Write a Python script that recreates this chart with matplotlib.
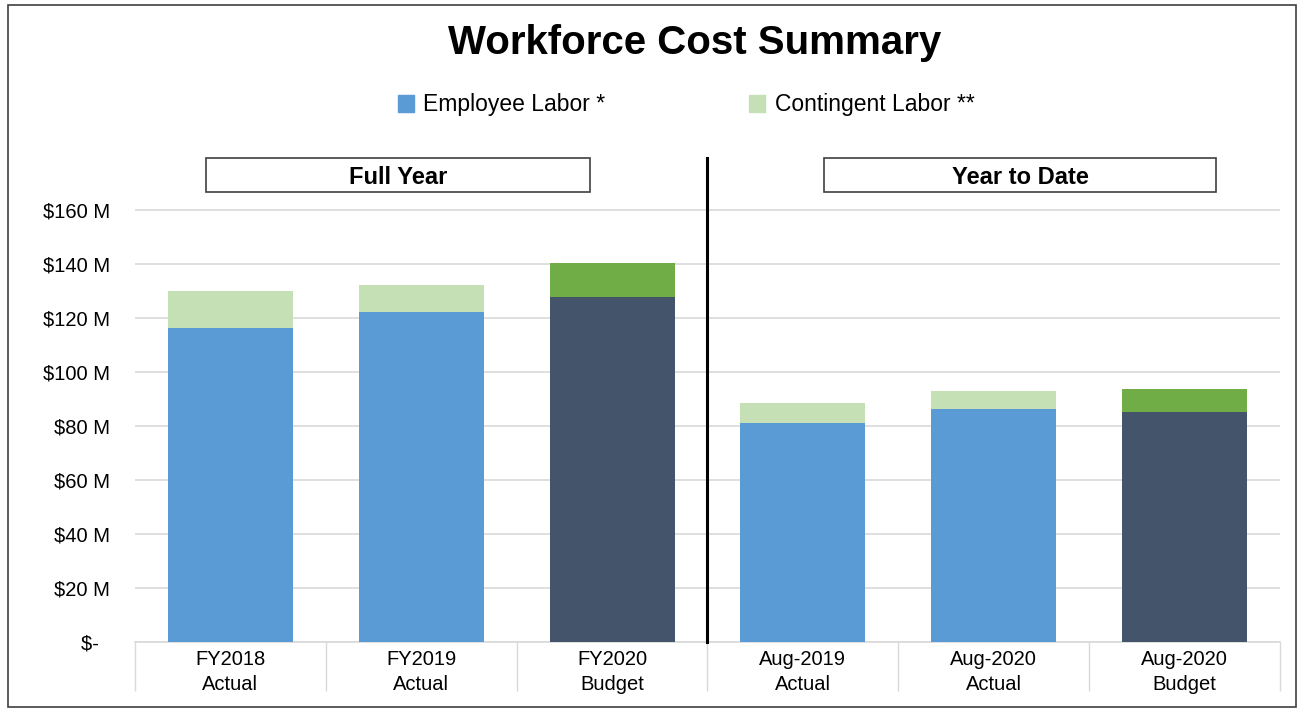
import matplotlib
matplotlib.use("Agg")
import matplotlib.pyplot as plt
from matplotlib.patches import Patch, Rectangle
import numpy as np

plt.rcParams['font.family'] = ['Liberation Sans', 'DejaVu Sans']

# Data ($M)
periods = ["FY2018", "FY2019", "FY2020", "Aug-2019", "Aug-2020", "Aug-2020"]
kinds = ["Actual", "Actual", "Budget", "Actual", "Actual", "Budget"]
employee = [116.3, 122.2, 127.8, 81.2, 86.3, 85.2]
contingent = [13.7, 10.0, 12.6, 7.3, 6.5, 8.5]
section_titles = ["Full Year", "Year to Date"]
y_ticks = [0, 20, 40, 60, 80, 100, 120, 140, 160]

blue, light_green = "#5B9BD5", "#C5E0B4"
navy, green = "#44546A", "#70AD47"

fig = plt.figure(figsize=(13.01, 7.09), dpi=100)
ax = fig.add_axes([135 / 1301, 1 - 642 / 709, 1145 / 1301, 484 / 709])

x = np.arange(len(periods))
emp_colors = [navy if k == "Budget" else blue for k in kinds]
con_colors = [green if k == "Budget" else light_green for k in kinds]
ax.bar(x, employee, width=0.655, color=emp_colors, zorder=3)
ax.bar(x, contingent, bottom=employee, width=0.655, color=con_colors, zorder=3)

ax.set_xlim(-0.5, len(periods) - 0.5)
ax.set_ylim(0, 179.3)
ax.set_yticks(y_ticks)
ax.set_yticklabels(["$-  " if v == 0 else f"${v} M" for v in y_ticks], fontsize=14.5)
ax.yaxis.grid(True, color="#D9D9D9", linewidth=1.2, zorder=0)
ax.tick_params(axis="y", length=0, pad=18)

ax.set_xticks(x)
ax.set_xticklabels([f"{p}\n{k}" for p, k in zip(periods, kinds)], fontsize=14.5,
                   linespacing=1.4)
ax.set_xticks(np.arange(-0.5, len(periods)), minor=True)
ax.tick_params(axis="x", which="major", length=0, pad=6)
ax.tick_params(axis="x", which="minor", length=35, color="#D9D9D9", width=1)

for s in ["top", "right", "left"]:
    ax.spines[s].set_visible(False)
ax.spines["bottom"].set_color("#D9D9D9")
ax.spines["bottom"].set_linewidth(1.2)

# divider between full year and year to date
ax.plot([2.5, 2.5], [0, 179.3], color="black", linewidth=2.2, clip_on=False, zorder=4)

# section header boxes
for (x0, x1), title in zip([(-0.128, 1.885), (3.11, 5.166)], section_titles):
    ax.add_patch(Rectangle((x0, 166.7), x1 - x0, 12.6, facecolor="white",
                           edgecolor="#404040", linewidth=1.2, clip_on=False, zorder=5))
    ax.text((x0 + x1) / 2, 172.0, title, ha="center", va="center",
            fontsize=17, fontweight="bold", zorder=6)

fig.text(695 / 1301, 1 - 43 / 709, "Workforce Cost Summary", ha="center",
         va="center", fontsize=29, fontweight="bold")

handles = [Patch(color=blue, label="Employee Labor *"),
           Patch(color=light_green, label="Contingent Labor **")]
fig.legend(handles=handles, loc="center", bbox_to_anchor=(686 / 1301, 1 - 105 / 709),
           ncol=2, frameon=False, fontsize=16.5, handlelength=0.7, handleheight=0.7,
           handletextpad=0.4, columnspacing=6.3)

# outer chart border
fig.patches.append(Rectangle((0.006, 0.003), 0.99, 0.99, transform=fig.transFigure,
                             fill=False, edgecolor="#404040", linewidth=1.2))

fig.savefig("out.png", dpi=100)
